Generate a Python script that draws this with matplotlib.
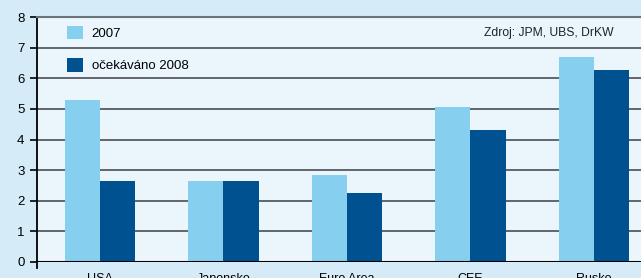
import numpy as np
import matplotlib.pyplot as plt
from matplotlib.patches import Patch

# ==================== DATA ====================
CATEGORIES = ['USA', 'Japonsko', 'Euro Area', 'CEE', 'Rusko']
VALUES_2007 = [5.3, 2.65, 2.85, 5.05, 6.68]
VALUES_2008 = [2.65, 2.65, 2.25, 4.3, 6.28]
SERIES_LABELS = ['2007', 'očekáváno 2008']
SOURCE_TEXT = 'Zdroj: JPM, UBS, DrKW'

# ==================== STYLE ====================
FIG_BG = '#d6ebf8'
AX_BG = '#eaf5fc'
LIGHT = '#86cfef'
DARK = '#00518f'

plt.rcParams['font.family'] = ['Liberation Sans', 'DejaVu Sans']

fig = plt.figure(figsize=(6.41, 2.78), dpi=100, facecolor=FIG_BG)
W, H = 641, 278
ax = fig.add_axes([37 / W, 16 / H, 617.5 / W, 245 / H], facecolor=AX_BG)

x = np.arange(len(CATEGORIES))
width = 0.285
ax.bar(x - width / 2, VALUES_2007, width, color=LIGHT, zorder=3)
ax.bar(x + width / 2, VALUES_2008, width, color=DARK, zorder=3)

ax.set_xlim(-0.51, 4.49)
ax.set_ylim(0, 8)
ax.set_yticks(range(0, 9))
ax.yaxis.grid(True, color='#3a3f44', linewidth=1.1, zorder=1)
ax.axhline(0, color='black', linewidth=2.2, zorder=4)

for side in ['right', 'bottom']:
    ax.spines[side].set_visible(False)
ax.spines['top'].set_color('#6b737b')
ax.spines['top'].set_linewidth(1.5)
ax.spines['left'].set_color('black')
ax.spines['left'].set_linewidth(1.3)
ax.spines['left'].set_bounds(-0.2, 8)

ax.tick_params(axis='y', direction='out', length=5, width=1.2, color='black',
               labelsize=9.5, pad=4)
ax.set_xticks(x)
ax.set_xticklabels(CATEGORIES, fontsize=9)
ax.tick_params(axis='x', length=0, pad=8)

handles = [Patch(facecolor=LIGHT), Patch(facecolor=DARK)]
ax.legend(handles, SERIES_LABELS, loc='upper left', bbox_to_anchor=(0.033, 1.003),
          frameon=False, fontsize=9.5, handlelength=1.25, handleheight=1.25,
          labelspacing=1.35, handletextpad=0.65, borderaxespad=0.3)

ax.text(614 / W, 1 - 33 / H, SOURCE_TEXT, transform=fig.transFigure,
        ha='right', va='center', fontsize=8.7, color='#222222')

fig.savefig('out.png', dpi=100, facecolor=FIG_BG)
